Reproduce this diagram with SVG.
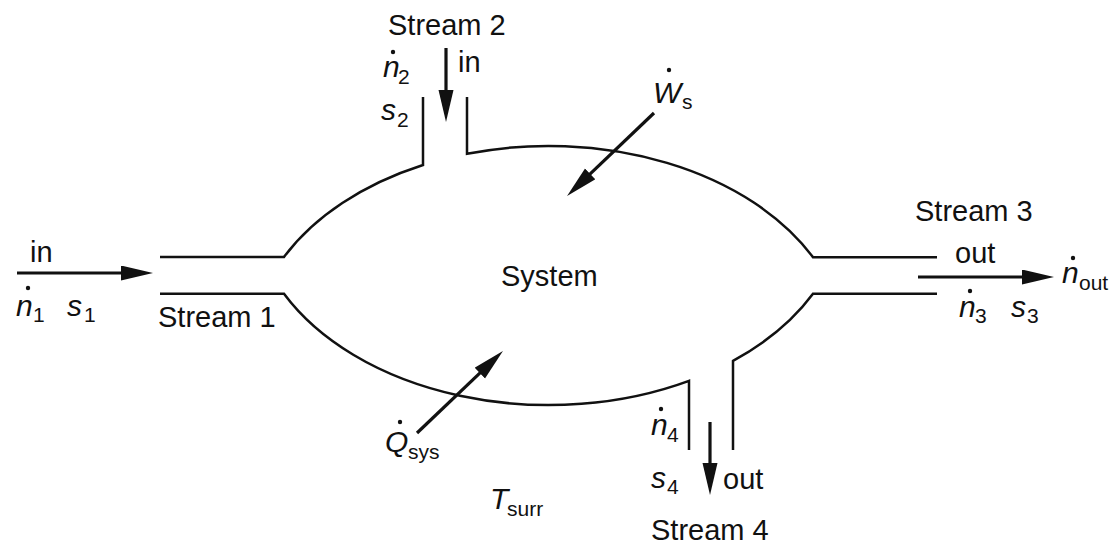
<svg xmlns="http://www.w3.org/2000/svg" width="1110" height="547" viewBox="0 0 1110 547">
<style>
.t{font-family:"Liberation Sans",Arial,Helvetica,sans-serif;font-size:29px;fill:#111}
.v{font-family:"Liberation Sans",Arial,Helvetica,sans-serif;font-size:30px;font-style:italic;fill:#111}
.sub{font-family:"Liberation Sans",Arial,Helvetica,sans-serif;font-size:21px;fill:#111}
.wall{fill:none;stroke:#111;stroke-width:2.5}
.arr{fill:none;stroke:#111;stroke-width:3.2;marker-end:url(#ah)}
.dot{fill:#111}
</style>
<defs>
<marker id="ah" markerUnits="userSpaceOnUse" markerWidth="34" markerHeight="16" refX="4" refY="7.5" orient="auto">
<path d="M0,0 L32,7.5 L0,15 Z" fill="#111"/>
</marker>
</defs>
<rect width="1110" height="547" fill="#fff"/>
<g id="system">
<path class="wall" d="M160,257 H284 A297,204 0 0 1 423,165 V97"/>
<path class="wall" d="M467,97 V153.8 A297,204 0 0 1 813,257.2 H937"/>
<path class="wall" d="M160,293.8 H284 A297,204 0 0 0 689,380.8 V450"/>
<path class="wall" d="M733,450 V360.9 A297,204 0 0 0 813,293.8 H937"/>
<text class="t" x="501" y="286">System</text>
</g>
<g id="connectors">
<line class="arr" x1="17" y1="273" x2="125" y2="273"/>
<line class="arr" x1="446" y1="48" x2="446" y2="94"/>
<line class="arr" x1="654" y1="113" x2="587.3" y2="176.7"/>
<line class="arr" x1="417" y1="433" x2="482.7" y2="370.3"/>
<line class="arr" x1="710" y1="422" x2="710" y2="467"/>
<line class="arr" x1="918" y1="277" x2="1026" y2="277"/>
</g>
<g id="stream1">
<text class="t" x="30" y="262">in</text>
<text class="v" x="16" y="316">n</text><circle class="dot" cx="28" cy="288" r="2.2"/><text class="sub" x="33" y="322">1</text>
<text class="v" x="67" y="316">s</text><text class="sub" x="84" y="322">1</text>
<text class="t" x="158" y="327">Stream 1</text>
</g>
<g id="stream2">
<text class="t" x="388" y="35">Stream 2</text>
<text class="v" x="383" y="77">n</text><circle class="dot" cx="393" cy="52" r="2.2"/><text class="sub" x="398" y="84">2</text>
<text class="v" x="381" y="120">s</text><text class="sub" x="397" y="127">2</text>
<text class="t" x="458" y="72">in</text>
</g>
<g id="work">
<text class="v" x="653" y="103">W</text><circle class="dot" cx="669" cy="70" r="2.2"/><text class="sub" x="682" y="109">s</text>
</g>
<g id="heat">
<text class="v" x="385" y="452">Q</text><circle class="dot" cx="400" cy="422" r="2.2"/><text class="sub" x="408" y="459">sys</text>
<text class="v" x="490" y="509">T</text><text class="sub" x="507" y="516">surr</text>
</g>
<g id="stream3">
<text class="t" x="915" y="221">Stream 3</text>
<text class="t" x="955" y="263">out</text>
<text class="v" x="1062" y="283">n</text><circle class="dot" cx="1073" cy="258" r="2.2"/><text class="sub" x="1079" y="290">out</text>
<text class="v" x="959" y="317">n</text><circle class="dot" cx="970" cy="291" r="2.2"/><text class="sub" x="975" y="323">3</text>
<text class="v" x="1011" y="317">s</text><text class="sub" x="1027" y="323">3</text>
</g>
<g id="stream4">
<text class="v" x="651" y="435">n</text><circle class="dot" cx="661" cy="409" r="2.2"/><text class="sub" x="667" y="442">4</text>
<text class="v" x="651" y="488">s</text><text class="sub" x="667" y="494">4</text>
<text class="t" x="723" y="489">out</text>
<text class="t" x="651" y="540">Stream 4</text>
</g>
</svg>
